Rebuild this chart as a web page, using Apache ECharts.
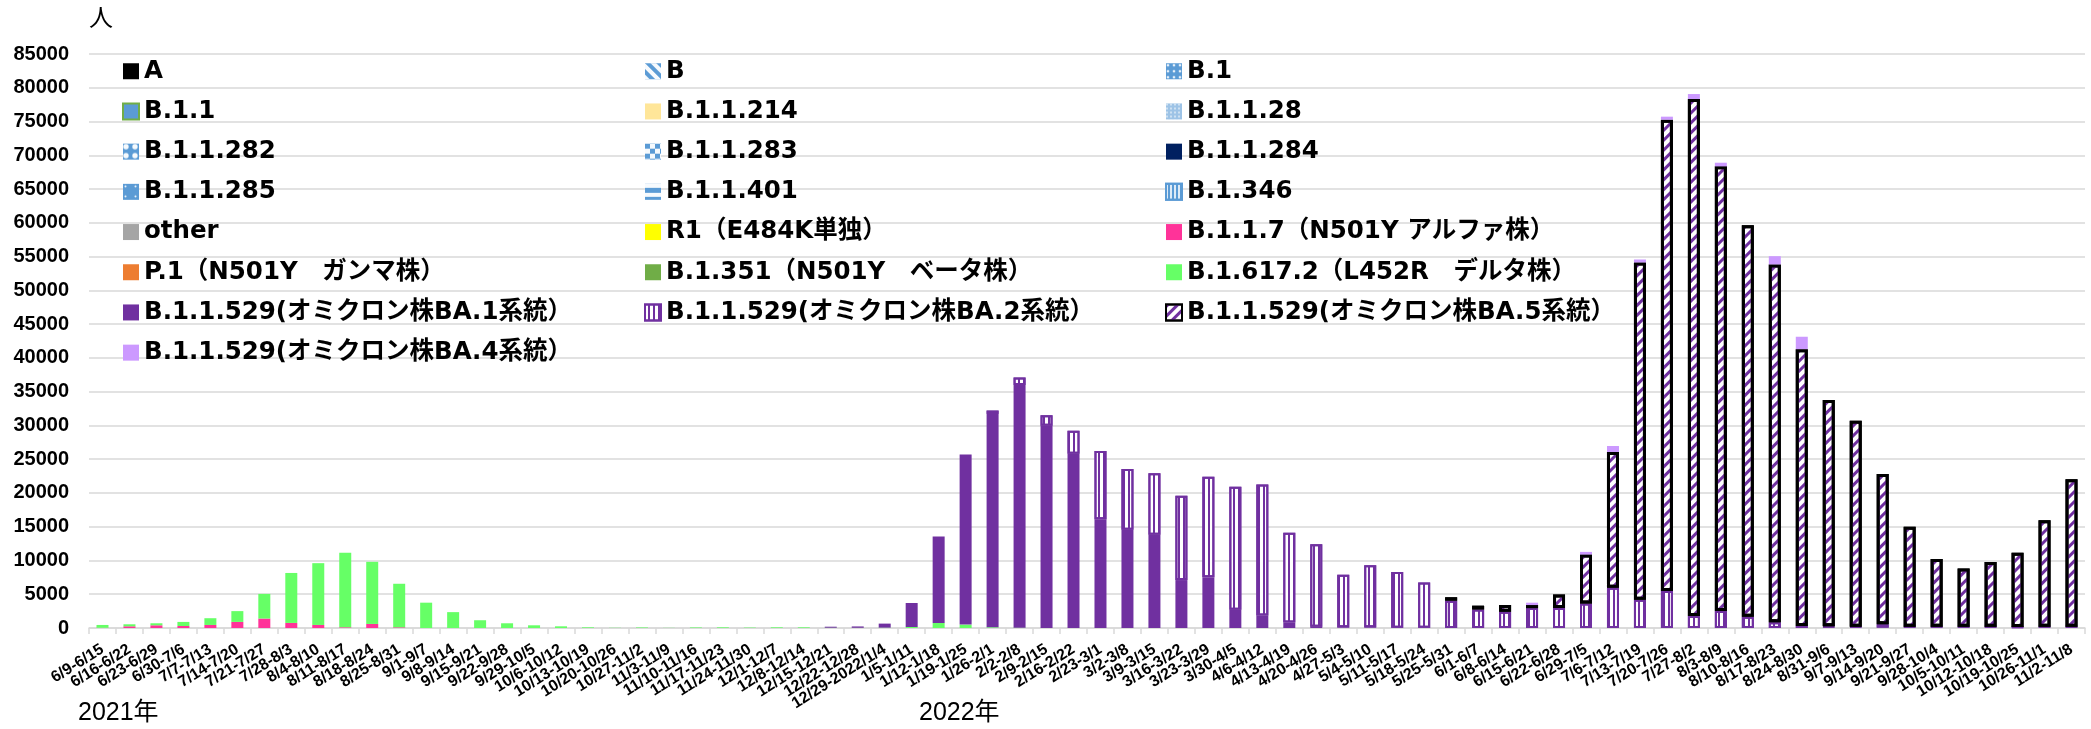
<!DOCTYPE html>
<html>
<head>
<meta charset="utf-8">
<script src="https://cdn.jsdelivr.net/npm/echarts@6/dist/echarts.min.js"></script>
<style>
  html, body { margin: 0; padding: 0; background: #fff; }
  #chart { width: 2091px; height: 729px; }
</style>
</head>
<body>
<div id="chart"></div>
<script>
// Weekly periods (2021/6/9 – 2022/11/8)
const weeks = [
  '6/9-6/15','6/16-6/22','6/23-6/29','6/30-7/6','7/7-7/13','7/14-7/20','7/21-7/27','7/28-8/3',
  '8/4-8/10','8/11-8/17','8/18-8/24','8/25-8/31','9/1-9/7','9/8-9/14','9/15-9/21','9/22-9/28',
  '9/29-10/5','10/6-10/12','10/13-10/19','10/20-10/26','10/27-11/2','11/3-11/9','11/10-11/16',
  '11/17-11/23','11/24-11/30','12/1-12/7','12/8-12/14','12/15-12/21','12/22-12/28','12/29-2022/1/4',
  '1/5-1/11','1/12-1/18','1/19-1/25','1/26-2/1','2/2-2/8','2/9-2/15','2/16-2/22','2/23-3/1',
  '3/2-3/8','3/9-3/15','3/16-3/22','3/23-3/29','3/30-4/5','4/6-4/12','4/13-4/19','4/20-4/26',
  '4/27-5/3','5/4-5/10','5/11-5/17','5/18-5/24','5/25-5/31','6/1-6/7','6/8-6/14','6/15-6/21',
  '6/22-6/28','6/29-7/5','7/6-7/12','7/13-7/19','7/20-7/26','7/27-8/2','8/3-8/9','8/10-8/16',
  '8/17-8/23','8/24-8/30','8/31-9/6','9/7-9/13','9/14-9/20','9/21-9/27','9/28-10/4','10/5-10/11',
  '10/12-10/18','10/19-10/25','10/26-11/1','11/2-11/8'
];

// Y axis ticks
const yMin = 0, yMax = 85000, yStep = 5000;

// Counts per lineage (people per week); lineages with no cases in the period are left empty
const other = [
  0,0,0,0,0,0,0,0,0,0,0,0,0,0,0,0,0,0,0,0,0,0,0,0,0,0,0,0,0,0,
  0,0,0,0,0,0,0,0,0,0,0,0,0,0,0,0,0,0,0,0,0,0,0,0,0,0,0,0,0,0,
  0,0,0,0,150,100,50,150,150,150,150,100,150,150
];
const alpha = [
  30,250,400,300,450,900,1400,750,450,100,600,100,0,0,0,0,0,0,0,0,0,0,0,0,0,0,0,0,0,0,
  0,0,0,0,0,0,0,0,0,0,0,0,0,0,0,0,0,0,0,0,0,0,0,0,0,0,0,0,0,0,
  0,0,0,0,0,0,0,0,0,0,0,0,0,0
];
const delta = [
  420,300,300,600,1000,1600,3650,7400,9150,11050,9200,6450,3750,2350,1150,700,400,250,100,30,
  80,20,80,100,60,100,100,40,30,50,
  150,750,500,100,50,0,0,0,0,0,0,0,0,0,0,0,0,0,0,0,0,0,0,0,0,0,0,0,0,0,
  0,0,0,0,0,0,0,0,0,0,0,0,0,0
];
const ba1 = [
  0,0,0,0,0,0,0,0,0,0,0,0,0,0,0,0,0,0,0,0,0,0,0,0,0,0,0,150,200,600,
  3550,12800,25200,31600,35950,29950,25800,16100,14550,13800,7100,7500,2700,1850,800,200,
  100,100,50,50,0,0,0,0,0,0,0,0,0,0,
  0,0,0,0,0,0,0,0,0,0,0,0,0,0
];
const ba2 = [
  0,0,0,0,0,0,0,0,0,0,0,0,0,0,0,0,0,0,0,0,0,0,0,0,0,0,0,0,0,0,
  0,0,0,500,1100,1550,3400,10100,9000,9100,12500,14900,18200,19400,13300,12200,
  7800,9200,8250,6700,4050,2750,2400,2950,2960,3630,5970,4190,5470,1790,
  2510,1670,840,300,100,100,500,50,50,50,50,50,50,50
];
const ba5 = [
  0,0,0,0,0,0,0,0,0,0,0,0,0,0,0,0,0,0,0,0,0,0,0,0,0,0,0,0,0,0,
  0,0,0,0,0,0,0,0,0,0,0,0,0,0,0,0,0,0,0,0,500,550,1000,450,2000,7250,20090,49940,69800,76550,
  65850,57980,53000,40990,33510,30490,22270,14810,10010,8620,9570,11010,15760,21840
];
const ba4 = [
  0,0,0,0,0,0,0,0,0,0,0,0,0,0,0,0,0,0,0,0,0,0,0,0,0,0,0,0,0,0,
  0,0,0,0,0,0,0,0,0,0,0,0,0,0,0,0,0,0,0,0,0,0,0,350,0,390,890,440,450,730,
  540,0,1220,1840,0,0,0,0,0,0,0,0,0,0
];

const FONT = "'DejaVu Sans', 'Noto Sans CJK JP', sans-serif";
const NUM_FONT = "'Liberation Sans', 'Noto Sans CJK JP', sans-serif";
const BLUE = '#5B9BD5';
const PURPLE = '#7030A0';
const W = 'rgba(255,255,255,0.95)';

// Stroke patterns
const hLines = (color, on, off, rot) => ({
  symbol: 'rect', symbolSize: 1, color: color,
  dashArrayX: [1, 0], dashArrayY: [on, off], rotation: rot || 0
});

const lineages = [
  { name: 'A', data: [], style: { color: '#000000' } },
  { name: 'B', data: [], style: { color: BLUE, decal: hLines(W, 4, 4, Math.PI / 4) } },
  { name: 'B.1', data: [], style: { color: BLUE, decal: { symbol: 'diamond', symbolSize: 0.8, color: W, dashArrayX: [4, 2], dashArrayY: [4, 2] } } },
  { name: 'B.1.1', data: [], style: { color: BLUE, borderColor: '#70AD47', borderWidth: 1.5 } },
  { name: 'B.1.1.214', data: [], style: { color: '#FFE699' } },
  { name: 'B.1.1.28', data: [], style: { color: '#9DC3E6', decal: { symbol: 'rect', symbolSize: 0.7, color: W, dashArrayX: [2, 2], dashArrayY: [2, 2] } } },
  { name: 'B.1.1.282', data: [], style: { color: BLUE, decal: { symbol: 'circle', symbolSize: 0.9, color: W, dashArrayX: [6, 3], dashArrayY: [6, 3] } } },
  { name: 'B.1.1.283', data: [], style: { color: BLUE, decal: { symbol: 'rect', symbolSize: 1, color: W, dashArrayX: [[5, 5], [0, 5, 5, 0]], dashArrayY: [5, 0] } } },
  { name: 'B.1.1.284', data: [], style: { color: '#002060' } },
  { name: 'B.1.1.285', data: [], style: { color: BLUE, decal: { symbol: 'circle', symbolSize: 0.4, color: W, dashArrayX: [5, 5], dashArrayY: [5, 5] } } },
  { name: 'B.1.1.401', data: [], style: { color: BLUE, decal: hLines(W, 4, 5) } },
  { name: 'B.1.346', data: [], style: { color: '#DEEBF7', borderColor: BLUE, borderWidth: 1, decal: hLines(BLUE, 2, 2, Math.PI / 2) } },
  { name: 'other', data: other, style: { color: '#A5A5A5' } },
  { name: 'R1（E484K単独）', data: [], style: { color: '#FFFF00' } },
  { name: 'B.1.1.7（N501Y アルファ株）', data: alpha, style: { color: '#FF3399' } },
  { name: 'P.1（N501Y　ガンマ株）', data: [], style: { color: '#ED7D31' } },
  { name: 'B.1.351（N501Y　ベータ株）', data: [], style: { color: '#70AD47' } },
  { name: 'B.1.617.2（L452R　デルタ株）', data: delta, style: { color: '#66FF66' } },
  { name: 'B.1.1.529(オミクロン株BA.1系統）', data: ba1, style: { color: PURPLE } },
  { name: 'B.1.1.529(オミクロン株BA.2系統）', data: ba2, style: { color: '#FFFFFF', borderColor: PURPLE, borderWidth: 2, decal: hLines(PURPLE, 2, 3, Math.PI / 2) } },
  { name: 'B.1.1.529(オミクロン株BA.5系統）', data: ba5, style: { color: '#FFFFFF', borderColor: '#000000', borderWidth: 3, decal: hLines(PURPLE, 3, 4, -Math.PI / 4) } },
  { name: 'B.1.1.529(オミクロン株BA.4系統）', data: ba4, style: { color: '#CC99FF' } }
];

// Weeks with no cases of a lineage get no bar segment (so no stray outline is drawn)
const series = lineages.map(l => ({
  name: l.name,
  type: 'bar',
  stack: 'total',
  barWidth: 12,
  data: l.data.map(v => (v === 0 ? '-' : v)),
  itemStyle: Object.assign({ borderWidth: 0 }, l.style),
  emphasis: { disabled: true }
}));

const n = i => lineages[i].name;
const legendCommon = {
  orient: 'vertical',
  top: 54,
  itemWidth: 16,
  itemHeight: 16,
  itemGap: 15.7,
  icon: 'rect',
  selectedMode: false,
  textStyle: { fontFamily: FONT, fontSize: 24.5, fontWeight: 'bold', color: '#000', lineHeight: 24 }
};

const chart = echarts.init(document.getElementById('chart'));
chart.setOption({
  animation: false,
  backgroundColor: '#fff',
  grid: { left: 89, right: 6, top: 54, bottom: 101, containLabel: false },
  legend: [
    Object.assign({ left: 117, data: [0, 3, 6, 9, 12, 15, 18, 21].map(n) }, legendCommon),
    Object.assign({ left: 639, data: [1, 4, 7, 10, 13, 16, 19].map(n) }, legendCommon),
    Object.assign({ left: 1160, data: [2, 5, 8, 11, 14, 17, 20].map(n) }, legendCommon)
  ],
  xAxis: {
    type: 'category',
    data: weeks,
    boundaryGap: true,
    axisLine: { lineStyle: { color: '#D9D9D9', width: 1.5 } },
    axisTick: { show: true, length: 6, lineStyle: { color: '#D9D9D9', width: 1.5 } },
    axisLabel: { interval: 0, rotate: 32, margin: 20, fontFamily: NUM_FONT, fontSize: 16, fontWeight: 'bold', color: '#000' }
  },
  yAxis: {
    type: 'value',
    min: yMin, max: yMax, interval: yStep,
    axisLine: { show: false },
    axisTick: { show: false },
    splitLine: { lineStyle: { color: '#D9D9D9', width: 1.5 } },
    axisLabel: { margin: 20, fontFamily: NUM_FONT, fontSize: 20, fontWeight: 'bold', color: '#000', formatter: v => String(v) }
  },
  graphic: [
    { type: 'text', left: 89, top: 7, style: { text: '人', font: "24px " + NUM_FONT, fill: '#000' } },
    { type: 'text', left: 78, top: 701, style: { text: '2021年', font: "25px " + NUM_FONT, fill: '#000' } },
    { type: 'text', left: 919, top: 701, style: { text: '2022年', font: "25px " + NUM_FONT, fill: '#000' } }
  ],
  series: series
});
</script>
</body>
</html>
